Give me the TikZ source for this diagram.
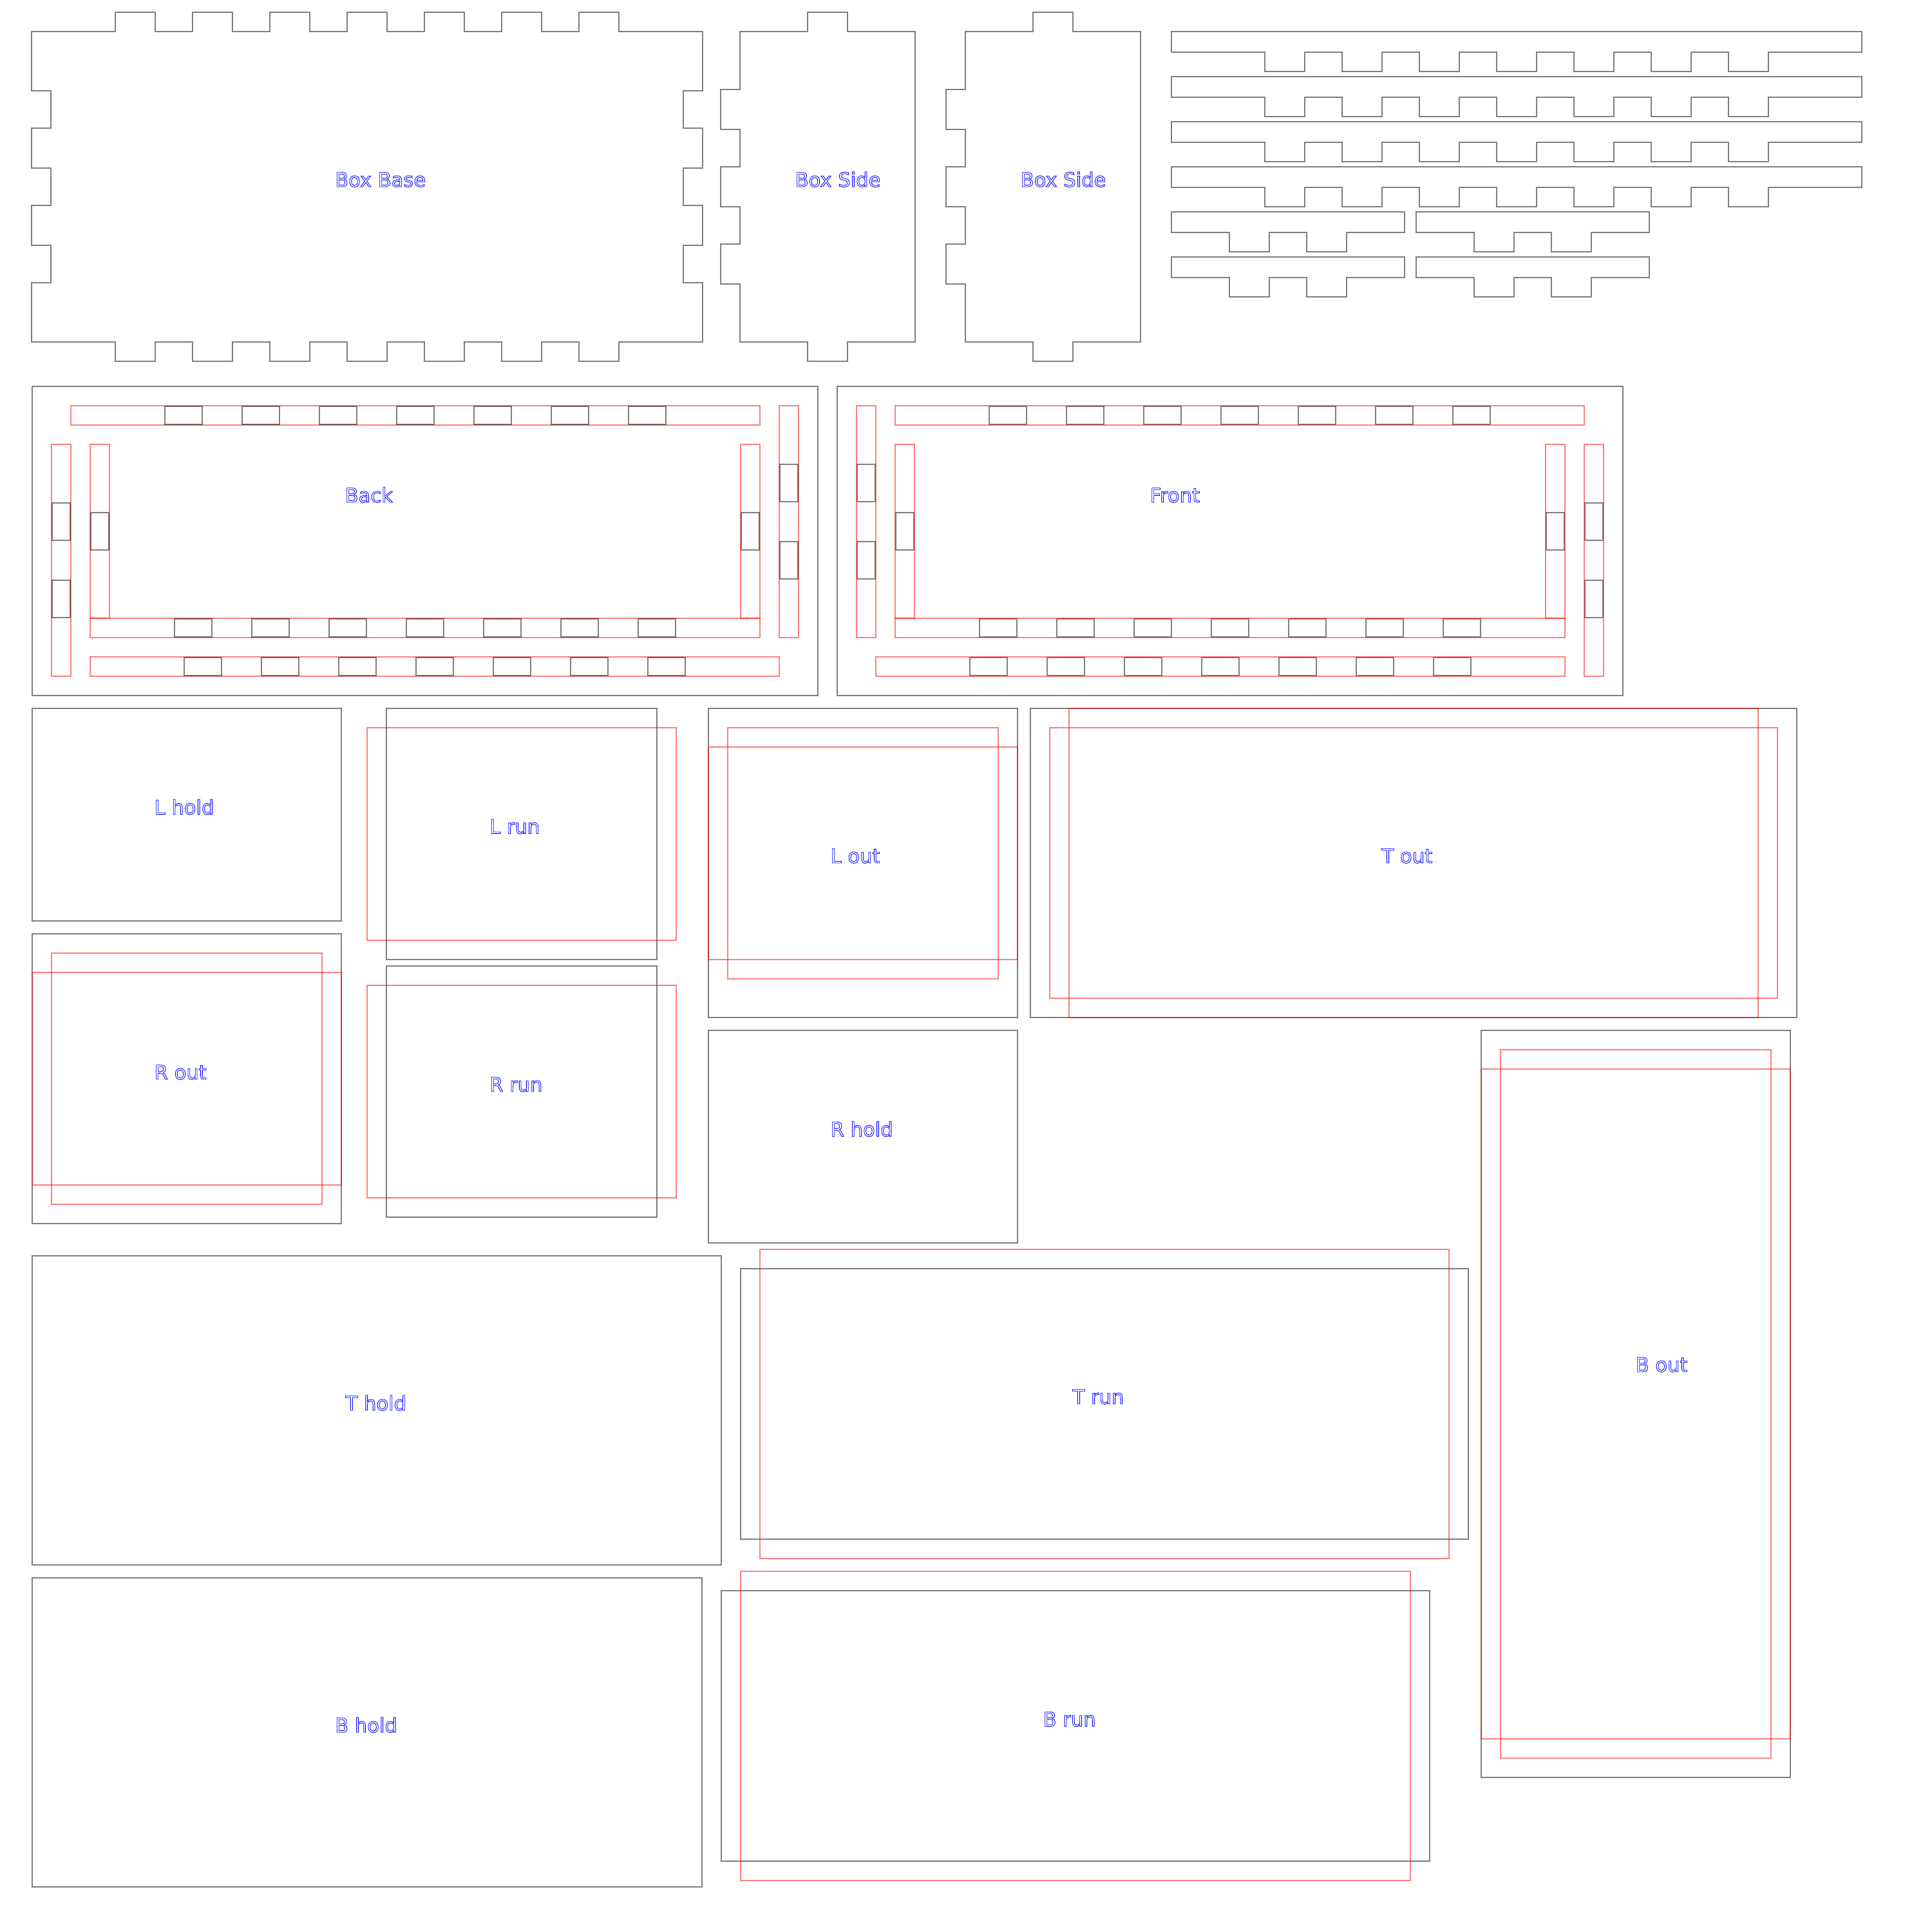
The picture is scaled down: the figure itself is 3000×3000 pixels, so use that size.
\documentclass[tikz,border=0pt]{standalone}
\usepackage{fontspec}
\setmainfont{DejaVu Sans}
\newcommand{\outlined}[1]{\special{pdf:code 1 Tr .24 w}#1\special{pdf:code 0 Tr}}
\begin{document}
\begin{tikzpicture}[x=.1mm,y=-.1mm,
    cut/.style={draw=black,draw opacity=.5,line width=.2mm},
    guide/.style={draw=red,draw opacity=.5,line width=.2mm},
    partname/.style={text=blue,anchor=base west,inner sep=0pt,xshift=.1mm,yshift=.1mm,
      font=\fontsize{8.7pt}{10pt}\selectfont}]
  \useasboundingbox (0,0) rectangle (3000,3000);
  % box base and the two sides
  \draw[cut] (49,49) foreach \x in {179,299,...,899} {
      -- (\x,49) -- (\x,19) -- (\x+62,19) -- (\x+62,49) }
    -- (1091,49) -- (1091,141) -- (1061,141) -- (1061,199) -- (1091,199)
    -- (1091,261) -- (1061,261) -- (1061,319) -- (1091,319)
    -- (1091,381) -- (1061,381) -- (1061,439) -- (1091,439) -- (1091,531)
    foreach \x in {899,779,...,179} {
      -- (\x+62,531) -- (\x+62,561) -- (\x,561) -- (\x,531) }
    -- (49,531) -- (49,439) -- (79,439) -- (79,381) -- (49,381)
    -- (49,319) -- (79,319) -- (79,261) -- (49,261)
    -- (49,199) -- (79,199) -- (79,141) -- (49,141) -- cycle;
  \foreach \x in {1149,1499} {
    \draw[cut] (\x,49) -- (\x+105,49) -- (\x+105,19) -- (\x+167,19) -- (\x+167,49)
      -- (\x+272,49) -- (\x+272,531) -- (\x+167,531) -- (\x+167,561) -- (\x+105,561)
      -- (\x+105,531) -- (\x,531) -- (\x,441) -- (\x-30,441) -- (\x-30,379) -- (\x,379)
      -- (\x,321) -- (\x-30,321) -- (\x-30,259) -- (\x,259)
      -- (\x,201) -- (\x-30,201) -- (\x-30,139) -- (\x,139) -- cycle;
  }
  \node[partname] (boxbase) at (518.5,291) {\outlined{Box Base}};
  \node[partname] (sidea) at (1233,291) {\outlined{Box Side}};
  \node[partname] (sideb) at (1583,291) {\outlined{Box Side}};
  % long and short toothed strips
  \foreach \y in {49,119,189,259} {
    \draw[cut] (1819,\y) -- (2891,\y) -- (2891,\y+32)
      foreach \x in {2684,2564,...,1964} {
        -- (\x+62,\y+32) -- (\x+62,\y+62) -- (\x,\y+62) -- (\x,\y+32) }
      -- (1819,\y+32) -- cycle;
  }
  \foreach \y in {329,399} {
    \foreach \s in {0,380} {
      \draw[cut] (1819+\s,\y) -- (2181+\s,\y) -- (2181+\s,\y+32)
        foreach \x in {2029,1909} {
          -- (\x+\s+62,\y+32) -- (\x+\s+62,\y+62) -- (\x+\s,\y+62) -- (\x+\s,\y+32) }
        -- (1819+\s,\y+32) -- cycle;
    }
  }
  % back panel
  \draw[cut] (50,600) rectangle (1270,1080);
  \draw[guide] (110,630) rectangle (1180,660);
  \draw[guide] (1210,630) rectangle (1240,990);
  \draw[guide] (80,690) rectangle (110,1050);
  \draw[guide] (140,690) rectangle (170,960);
  \draw[guide] (1150,690) rectangle (1180,960);
  \draw[guide] (140,960) rectangle (1180,990);
  \draw[guide] (140,1020) rectangle (1210,1050);
  \foreach \k in {0,...,6} {
    \draw[cut] (256+120*\k,631) rectangle +(58,28);
    \draw[cut] (271+120*\k,961) rectangle +(58,28);
    \draw[cut] (286+120*\k,1021) rectangle +(58,28);
    \draw[cut] (1536+120*\k,631) rectangle +(58,28);
    \draw[cut] (1521+120*\k,961) rectangle +(58,28);
    \draw[cut] (1506+120*\k,1021) rectangle +(58,28);
  }
  \foreach \y in {721,841} {
    \draw[cut] (1211,\y) rectangle +(28,58);
    \draw[cut] (1331,\y) rectangle +(28,58);
  }
  \foreach \y in {781,901} {
    \draw[cut] (81,\y) rectangle +(28,58);
    \draw[cut] (2461,\y) rectangle +(28,58);
  }
  \foreach \x in {141,1151,1391,2401}
    \draw[cut] (\x,796) rectangle +(28,58);
  \node[partname] (back) at (534,781) {\outlined{Back}};
  % front panel
  \draw[cut] (1300,600) rectangle (2520,1080);
  \draw[guide] (1330,630) rectangle (1360,990);
  \draw[guide] (1390,630) rectangle (2460,660);
  \draw[guide] (1390,690) rectangle (1420,960);
  \draw[guide] (2400,690) rectangle (2430,960);
  \draw[guide] (2460,690) rectangle (2490,1050);
  \draw[guide] (1390,960) rectangle (2430,990);
  \draw[guide] (1360,1020) rectangle (2430,1050);
  \node[partname] (front) at (1784,781) {\outlined{Front}};
  % left and right plates
  \draw[cut] (50,1100) rectangle (530,1430);
  \node[partname] (lhold) at (238,1265.5) {\outlined{L hold}};
  \draw[cut] (50,1450) rectangle (530,1900);
  \draw[guide] (80,1480) rectangle (500,1870);
  \draw[guide] (50,1510) rectangle (530,1840);
  \node[partname] (rout) at (238,1677) {\outlined{R out}};
  \draw[cut] (600,1100) rectangle (1020,1490);
  \draw[guide] (570,1130) rectangle (1050,1460);
  \node[partname] (lrun) at (758.5,1295.5) {\outlined{L run}};
  \draw[cut] (600,1500) rectangle (1020,1890);
  \draw[guide] (570,1530) rectangle (1050,1860);
  \node[partname] (rrun) at (758.5,1696) {\outlined{R run}};
  \draw[cut] (1100,1100) rectangle (1580,1580);
  \draw[guide] (1130,1130) rectangle (1550,1520);
  \draw[guide] (1100,1160) rectangle (1580,1490);
  \node[partname] (lout) at (1288,1341) {\outlined{L out}};
  \draw[cut] (1100,1600) rectangle (1580,1930);
  \node[partname] (rhold) at (1288,1765.5) {\outlined{R hold}};
  % top and bottom plates
  \draw[cut] (1600,1100) rectangle (2790,1580);
  \draw[guide] (1630,1130) rectangle (2760,1550);
  \draw[guide] (1660,1100) rectangle (2730,1580);
  \node[partname] (tout) at (2144,1341) {\outlined{T out}};
  \draw[cut] (2300,1600) rectangle (2780,2760);
  \draw[guide] (2330,1630) rectangle (2750,2730);
  \draw[guide] (2300,1660) rectangle (2780,2700);
  \node[partname] (bout) at (2538,2131) {\outlined{B out}};
  \draw[cut] (50,1950) rectangle (1120,2430);
  \node[partname] (thold) at (535,2191) {\outlined{T hold}};
  \draw[cut] (1150,1970) rectangle (2280,2390);
  \draw[guide] (1180,1940) rectangle (2250,2420);
  \node[partname] (trun) at (1664,2181) {\outlined{T run}};
  \draw[cut] (50,2450) rectangle (1090,2930);
  \node[partname] (bhold) at (518.5,2691) {\outlined{B hold}};
  \draw[cut] (1120,2470) rectangle (2220,2890);
  \draw[guide] (1150,2440) rectangle (2190,2920);
  \node[partname] (brun) at (1618,2681.5) {\outlined{B run}};
\end{tikzpicture}
\end{document}
